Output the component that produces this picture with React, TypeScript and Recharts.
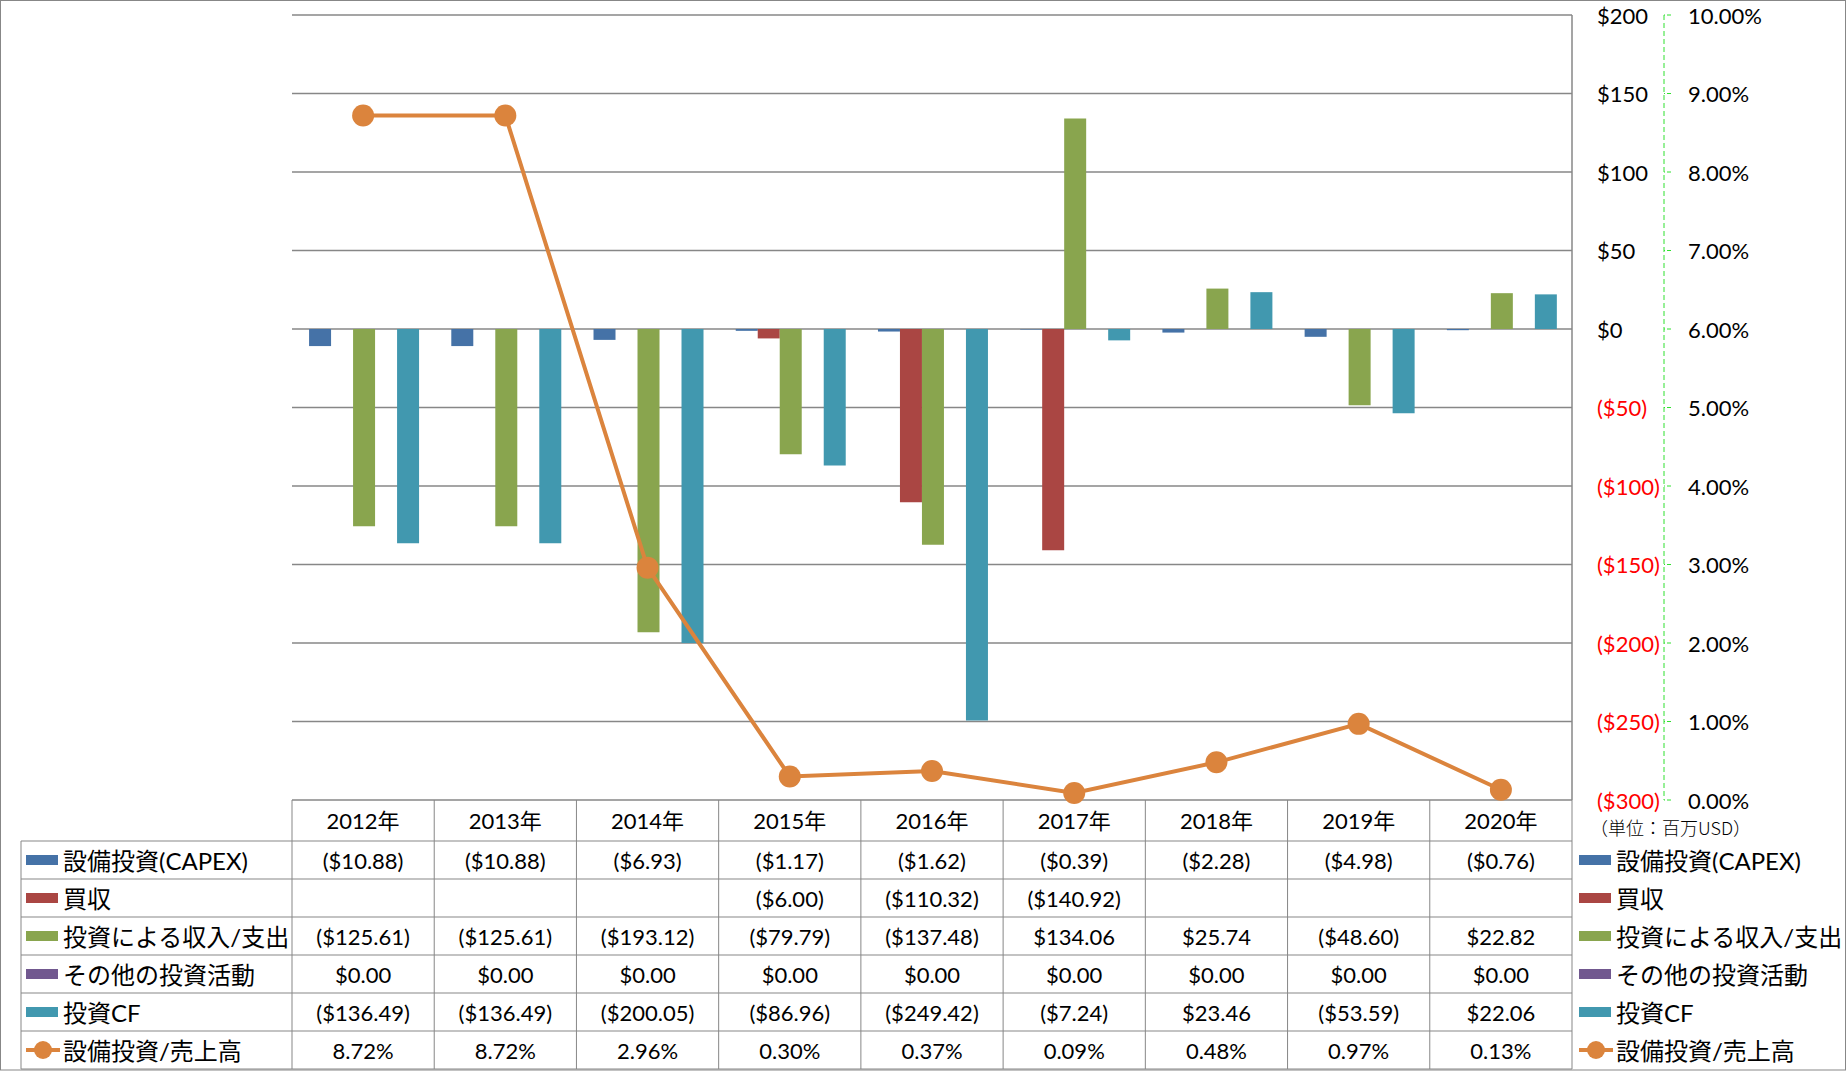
import { ComposedChart, Bar, Line, XAxis, YAxis, CartesianGrid } from "recharts";

const years = ["2012年", "2013年", "2014年", "2015年", "2016年", "2017年", "2018年", "2019年", "2020年"];
const capex = [-10.88, -10.88, -6.93, -1.17, -1.62, -0.39, -2.28, -4.98, -0.76];
const acquisition = [null, null, null, -6.0, -110.32, -140.92, null, null, null];
const investIncome = [-125.61, -125.61, -193.12, -79.79, -137.48, 134.06, 25.74, -48.6, 22.82];
const otherInvest = [0, 0, 0, 0, 0, 0, 0, 0, 0];
const investCF = [-136.49, -136.49, -200.05, -86.96, -249.42, -7.24, 23.46, -53.59, 22.06];
const capexRatio = [8.72, 8.72, 2.96, 0.3, 0.37, 0.09, 0.48, 0.97, 0.13];

const usdTicks = [-300, -250, -200, -150, -100, -50, 0, 50, 100, 150, 200];
const pctTicks = [0, 1, 2, 3, 4, 5, 6, 7, 8, 9, 10];

const series = [
  { key: "capex", name: "設備投資(CAPEX)", color: "#4572A7", type: "bar" },
  { key: "acquisition", name: "買収", color: "#AA4643", type: "bar" },
  { key: "investIncome", name: "投資による収入/支出", color: "#89A54E", type: "bar" },
  { key: "otherInvest", name: "その他の投資活動", color: "#71588F", type: "bar" },
  { key: "investCF", name: "投資CF", color: "#4198AF", type: "bar" },
  { key: "capexRatio", name: "設備投資/売上高", color: "#DB843D", type: "line" },
];

const data = years.map((year, i) => ({
  year,
  capex: capex[i],
  acquisition: acquisition[i],
  investIncome: investIncome[i],
  otherInvest: otherInvest[i],
  investCF: investCF[i],
  capexRatio: capexRatio[i],
}));

const W = 1848;
const H = 1071;
const PLOT_L = 292;
const PLOT_R = 1572;
const PLOT_T = 15;
const PLOT_B = 800;
const TABLE_L = 21;
const HEADER_H = 41;
const ROW_H = 38;
const COL_W = (PLOT_R - PLOT_L) / years.length;
const USD_AXIS_W = 92;
const GRID = "#878787";
const FONT = "Lato, 'Noto Sans CJK JP', sans-serif";
const NUM_SIZE = 22;
const LABEL_SIZE = 24;

const fmtUsd = (v: number | null) => {
  if (v === null || v === undefined) return "";
  return v < 0 ? `($${Math.abs(v).toFixed(2)})` : `$${v.toFixed(2)}`;
};

const rowTop = (r: number) => PLOT_B + HEADER_H + r * ROW_H;

const TableColumn = (props: any) => {
  const { x, index, payload } = props;
  const row = data[index];
  const left = x - COL_W / 2;
  const bottom = rowTop(series.length);
  return (
    <g>
      <line x1={left} y1={PLOT_B} x2={left} y2={bottom} stroke={GRID} />
      {index === years.length - 1 && (
        <line x1={left + COL_W} y1={PLOT_B} x2={left + COL_W} y2={bottom} stroke={GRID} />
      )}
      <text x={x} y={PLOT_B + HEADER_H / 2} textAnchor="middle" dominantBaseline="central" fontSize={NUM_SIZE} fontFamily={FONT} fill="#000">
        {payload.value}
      </text>
      {series.map((s, r) => {
        const v = (row as any)[s.key];
        const label = s.type === "line" ? `${v.toFixed(2)}%` : fmtUsd(v);
        return (
          <text key={s.key} x={x} y={rowTop(r) + ROW_H / 2} textAnchor="middle" dominantBaseline="central" fontSize={NUM_SIZE} fontFamily={FONT} fill="#000">
            {label}
          </text>
        );
      })}
    </g>
  );
};

const UsdTick = (props: any) => {
  const { x, y, payload } = props;
  const v = payload.value;
  const label = v < 0 ? `($${Math.abs(v)})` : `$${v}`;
  return (
    <text x={x} y={y} textAnchor="start" dominantBaseline="central" fontSize={NUM_SIZE} fontFamily={FONT} fill={v < 0 ? "#FF0000" : "#000"}>
      {label}
    </text>
  );
};

const PctTick = (props: any) => {
  const { x, y, payload } = props;
  return (
    <text x={x} y={y} textAnchor="start" dominantBaseline="central" fontSize={NUM_SIZE} fontFamily={FONT} fill="#000">
      {`${payload.value.toFixed(2)}%`}
    </text>
  );
};

const Swatch = ({ x, cy, color, type }: any) =>
  type === "line" ? (
    <g>
      <line x1={x} y1={cy} x2={x + 34} y2={cy} stroke={color} strokeWidth={4} />
      <circle cx={x + 17} cy={cy} r={9} fill={color} />
    </g>
  ) : (
    <rect x={x} y={cy - 5} width={32} height={10} fill={color} />
  );

const Overlay = () => (
  <svg width={W} height={H} style={{ position: "absolute", left: 0, top: 0, pointerEvents: "none" }}>
    <rect x={0.5} y={0.5} width={W - 3} height={H - 1.5} fill="none" stroke={GRID} />
    {series.map((s, r) => (
      <line key={s.key} x1={TABLE_L} y1={rowTop(r)} x2={PLOT_R} y2={rowTop(r)} stroke={GRID} />
    ))}
    <line x1={TABLE_L} y1={rowTop(series.length)} x2={PLOT_R} y2={rowTop(series.length)} stroke={GRID} />
    <line x1={TABLE_L} y1={rowTop(0)} x2={TABLE_L} y2={rowTop(series.length)} stroke={GRID} />
    {series.map((s, r) => {
      const cy = rowTop(r) + ROW_H / 2;
      return (
        <g key={s.key}>
          <Swatch x={TABLE_L + 5} cy={cy} color={s.color} type={s.type} />
          <text x={TABLE_L + 42} y={cy} dominantBaseline="central" fontSize={LABEL_SIZE} fontFamily={FONT} fill="#000">
            {s.name}
          </text>
          <Swatch x={PLOT_R + 7} cy={cy} color={s.color} type={s.type} />
          <text x={PLOT_R + 44} y={cy} dominantBaseline="central" fontSize={LABEL_SIZE} fontFamily={FONT} fill="#000">
            {s.name}
          </text>
        </g>
      );
    })}
    <text x={PLOT_R + 18} y={PLOT_B + 27} dominantBaseline="central" fontSize={18} fontFamily="'Noto Sans CJK JP', sans-serif" fontWeight={300} fill="#000">
      （単位：百万USD）
    </text>
  </svg>
);

export default function App() {
  return (
    <div style={{ position: "absolute", left: 0, top: 0, width: W, height: H, background: "#fff" }}>
      <ComposedChart
        width={W}
        height={H}
        data={data}
        margin={{ top: PLOT_T, right: 0, bottom: 1, left: PLOT_L }}
        barCategoryGap="12%"
        barGap={0}
      >
        <CartesianGrid yAxisId="a_usd" vertical={false} stroke={GRID} strokeWidth={1.5} />
        <XAxis
          dataKey="year"
          height={H - 1 - PLOT_B}
          axisLine={false}
          tickLine={false}
          tickSize={0}
          tickMargin={0}
          interval={0}
          tick={<TableColumn />}
        />
        <YAxis
          yAxisId="a_usd"
          orientation="right"
          width={USD_AXIS_W}
          domain={[-300, 200]}
          ticks={usdTicks}
          allowDataOverflow
          axisLine={{ stroke: GRID, strokeWidth: 1.5 }}
          tickLine={false}
          tickSize={0}
          tickMargin={25}
          tick={<UsdTick />}
        />
        <YAxis
          yAxisId="b_pct"
          orientation="right"
          width={W - PLOT_R - USD_AXIS_W}
          domain={[0, 10]}
          ticks={pctTicks}
          axisLine={{ stroke: "#2EE02E", strokeDasharray: "5 3" }}
          tickLine={{ stroke: "#2EE02E", strokeDasharray: "4 2" }}
          tickSize={7}
          tickMargin={17}
          tick={<PctTick />}
        />
        {series
          .filter((s) => s.type === "bar")
          .map((s) => (
            <Bar key={s.key} yAxisId="a_usd" dataKey={s.key} name={s.name} fill={s.color} isAnimationActive={false} />
          ))}
        <Line
          yAxisId="b_pct"
          dataKey="capexRatio"
          name="設備投資/売上高"
          stroke="#DB843D"
          strokeWidth={4}
          dot={{ r: 11, fill: "#DB843D", stroke: "none" }}
          isAnimationActive={false}
        />
      </ComposedChart>
      <Overlay />
    </div>
  );
}
